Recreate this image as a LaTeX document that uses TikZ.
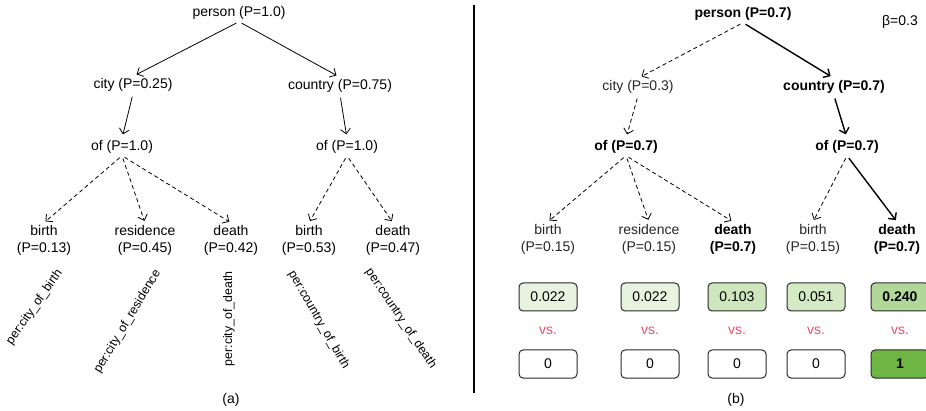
\documentclass[tikz,border=0pt]{standalone}
\usepackage{fontspec}
\setmainfont{Liberation Sans}
\usetikzlibrary{arrows.meta}
\definecolor{vsred}{HTML}{EE4F6B}
\definecolor{boxline}{HTML}{2A2A2A}
\definecolor{gA}{HTML}{E8F3DF}
\definecolor{gB}{HTML}{CDE6BD}
\definecolor{gC}{HTML}{D3EAC4}
\definecolor{gD}{HTML}{B2D899}
\definecolor{gE}{HTML}{6DB644}
\definecolor{dimtext}{HTML}{262626}
\begin{document}
\begin{tikzpicture}[x=1pt,y=-1pt,
  font=\fontsize{14}{17}\selectfont,
  lbl/.style={inner sep=2pt, text height=10pt, text depth=3pt},
  bold/.style={font=\fontsize{14}{17}\selectfont\bfseries},
  leaf/.style={inner sep=2pt, align=center},
  arr/.style={-{Straight Barb[length=5pt,width=10pt]}, line width=0.8pt,
    shorten <=3pt, shorten >=4pt},
  larr/.style={arr, shorten >=2pt},
  dashpat/.style={dash pattern=on 4pt off 3pt},
  rel/.style={font=\fontsize{12.4}{14}\selectfont, inner sep=0pt},
  score/.style={draw=boxline, line width=1pt, rounded corners=4pt,
    minimum width=58pt, minimum height=28pt, inner sep=0pt},
  vs/.style={text=vsred, inner sep=1pt},
  captxt/.style={inner sep=1pt}
]
\useasboundingbox (0,0) rectangle (926,411);

% ---------------- (a) ----------------
\node[lbl] (p)  at (239,13) {person (P=1.0)};
\node[lbl] (ci) at (133,85) {city (P=0.25)};
\node[lbl] (co) at (340,86) {country (P=0.75)};
\node[lbl] (o1) at (122,147) {of (P=1.0)};
\node[lbl] (o2) at (347,147) {of (P=1.0)};
\node[leaf] (l1) at (44,240)  {birth\\(P=0.13)};
\node[leaf] (l2) at (145,240) {residence\\(P=0.45)};
\node[leaf] (l3) at (231,240) {death\\(P=0.42)};
\node[leaf] (l4) at (309,240) {birth\\(P=0.53)};
\node[leaf] (l5) at (393,240) {death\\(P=0.47)};

\draw[arr] (p.south) -- (ci.north);
\draw[arr] (p.south) -- (co.north);
\draw[arr] (ci.south) -- (o1.north);
\draw[arr] (co.south) -- (o2.north);
\foreach \t in {l1,l2,l3} \draw[larr,dashpat] (o1.south) -- (\t.north);
\foreach \t in {l4,l5} \draw[larr,dashpat] (o2.south) -- (\t.north);

\node[rel, rotate=55, anchor=east] (r1) at (60,271) {per:city\_of\_birth};
\node[rel, rotate=59, anchor=east] (r2) at (158,271) {per:city\_of\_residence};
\node[rel, rotate=90, anchor=east] (r3) at (229,271) {per:city\_of\_death};
\node[rel, rotate=-60, anchor=west] (r4) at (291,272) {per:country\_of\_birth};
\node[rel, rotate=-56, anchor=west] (r5) at (368,270) {per:country\_of\_death};

\node[captxt] (capa) at (231,400) {(a)};

% separator
\draw[line width=2pt] (474,5) -- (474,393);

% ---------------- (b) ----------------
\node[lbl, bold] (P) at (743,14) {person (P=0.7)};
\node[inner sep=1pt] (beta) at (900,22) {β=0.3};
\node[lbl, text=dimtext] (CI) at (638,87) {city (P=0.3)};
\node[lbl, bold] (CO) at (834,87) {country (P=0.7)};
\node[lbl, bold] (O1) at (626,147) {of (P=0.7)};
\node[lbl, bold] (O2) at (847,147) {of (P=0.7)};
\node[leaf, text=dimtext] (L1) at (548,239) {birth\\(P=0.15)};
\node[leaf, text=dimtext] (L2) at (649,239) {residence\\(P=0.15)};
\node[leaf, bold] (L3) at (733,239) {death\\(P=0.7)};
\node[leaf, text=dimtext] (L4) at (813,239) {birth\\(P=0.15)};
\node[leaf, bold] (L5) at (897,239) {death\\(P=0.7)};

\draw[arr,dashpat] (P.south) -- (CI.north);
\draw[arr,line width=1.4pt] (P.south) -- (CO.north);
\draw[arr,dashpat] (CI.south) -- (O1.north);
\draw[arr,line width=1.4pt] (CO.south) -- (O2.north);
\foreach \t in {L1,L2,L3} \draw[larr,dashpat] (O1.south) -- (\t.north);
\draw[larr,dashpat] (O2.south) -- (L4.north);
\draw[larr,line width=1.4pt] (O2.south) -- (L5.north);

\node[score, fill=gA] (s1) at (548,297) {0.022};
\node[score, fill=gA] (s2) at (650,297) {0.022};
\node[score, fill=gB] (s3) at (737,297) {0.103};
\node[score, fill=gC] (s4) at (816,297) {0.051};
\node[score, fill=gD, bold] (s5) at (900,297) {0.240};

\node[vs] (v1) at (548,331) {vs.};
\node[vs] (v2) at (650,331) {vs.};
\node[vs] (v3) at (737,331) {vs.};
\node[vs] (v4) at (816,331) {vs.};
\node[vs] (v5) at (900,331) {vs.};

\node[score, fill=white] (t1) at (548,364) {0};
\node[score, fill=white] (t2) at (650,364) {0};
\node[score, fill=white] (t3) at (737,364) {0};
\node[score, fill=white] (t4) at (816,364) {0};
\node[score, fill=gE, bold] (t5) at (900,364) {1};

\node[captxt] (capb) at (736,400) {(b)};
\end{tikzpicture}
\end{document}
